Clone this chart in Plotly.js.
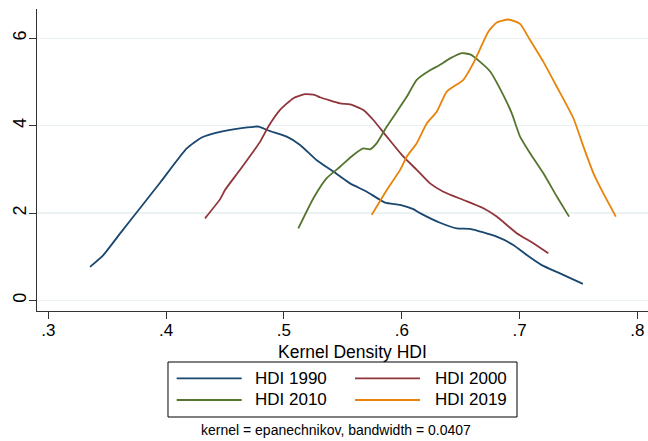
<!DOCTYPE html>
<html>
<head>
<meta charset="utf-8">
<script src="https://cdn.plot.ly/plotly-3.0.1.min.js"></script>
<style>html,body{margin:0;padding:0;background:#fff;}#chart{width:648px;height:441px;}</style>
</head>
<body>
<div id="chart"></div>
<script>
// Kernel density estimates of HDI
const hdi1990_x = [0.3354,0.3467,0.3620,0.3778,0.3950,0.4175,0.4302,0.4458,0.4655,0.4783,0.4868,0.5024,0.5137,0.5278,0.5419,0.5561,0.5703,0.5858,0.5986,0.6098,0.6155,0.6325,0.6467,0.6580,0.6806,0.6947,0.7061,0.7188,0.7343,0.7537];
const hdi1990_y = [0.77,1.04,1.57,2.11,2.70,3.48,3.73,3.86,3.95,3.98,3.89,3.75,3.56,3.21,2.95,2.68,2.49,2.24,2.19,2.09,2.00,1.78,1.65,1.64,1.46,1.27,1.04,0.81,0.62,0.38];

const hdi2000_x = [0.4330,0.4458,0.4500,0.4627,0.4797,0.4868,0.4967,0.5080,0.5179,0.5264,0.5306,0.5476,0.5561,0.5674,0.5759,0.5873,0.6014,0.6127,0.6240,0.6353,0.6523,0.6693,0.6806,0.6976,0.7117,0.7244];
const hdi2000_y = [1.88,2.32,2.53,2.99,3.63,3.98,4.36,4.63,4.72,4.70,4.65,4.51,4.49,4.36,4.13,3.75,3.29,2.99,2.68,2.49,2.30,2.11,1.92,1.54,1.31,1.08];

const hdi2010_x = [0.5122,0.5250,0.5363,0.5476,0.5589,0.5674,0.5731,0.5788,0.5873,0.5958,0.6042,0.6127,0.6240,0.6311,0.6410,0.6509,0.6580,0.6665,0.6750,0.6862,0.6934,0.7004,0.7089,0.7202,0.7316,0.7420];
const hdi2010_y = [1.65,2.34,2.80,3.06,3.33,3.48,3.46,3.60,3.98,4.32,4.66,5.05,5.27,5.37,5.54,5.66,5.63,5.46,5.24,4.70,4.28,3.75,3.37,2.91,2.38,1.92];

const hdi2019_x = [0.5745,0.5873,0.5986,0.6042,0.6127,0.6212,0.6297,0.6382,0.6523,0.6608,0.6735,0.6806,0.6905,0.7004,0.7089,0.7202,0.7316,0.7457,0.7542,0.7627,0.7711,0.7817];
const hdi2019_y = [1.96,2.53,2.99,3.29,3.60,4.05,4.32,4.78,5.05,5.43,6.15,6.36,6.43,6.33,5.96,5.46,4.89,4.17,3.52,2.91,2.45,1.92];

const seriesNames = ["HDI 1990","HDI 2000","HDI 2010","HDI 2019"];
const seriesColors = ["#1a476f","#90353b","#55752f","#e8830a"];
const xTickVals = [0.3,0.4,0.5,0.6,0.7,0.8];
const xTickText = [".3",".4",".5",".6",".7",".8"];
const yTickVals = [0,2,4,6];
const yTickText = ["0","2","4","6"];
const xTitle = "Kernel Density HDI";
const noteText = "kernel = epanechnikov, bandwidth = 0.0407";

const xs = [hdi1990_x,hdi2000_x,hdi2010_x,hdi2019_x];
const ys = [hdi1990_y,hdi2000_y,hdi2010_y,hdi2019_y];

const FONT = "'Liberation Sans', Arial, Helvetica, sans-serif";

const traces = xs.map((x,i)=>({
  type:'scatter', mode:'lines', x:x, y:ys[i], name:seriesNames[i],
  line:{color:seriesColors[i], width:1.8, shape:'spline', smoothing:0.5},
  showlegend:false, hoverinfo:'skip'
}));

// legend drawn in paper coordinates (two columns)
const shapes = [
  {type:'rect', xref:'paper', yref:'paper', x0:0.2144, x1:0.7856, y0:-0.351, y1:-0.1689,
   line:{color:'#000', width:1}, fillcolor:'rgba(0,0,0,0)'}
];
const annotations = [
  {xref:'paper', yref:'paper', x:0.5164, y:-0.137, text:xTitle, showarrow:false,
   xanchor:'center', yanchor:'middle', font:{family:FONT, size:17.5, color:'#000'}},
  {xref:'paper', yref:'paper', x:0.489, y:-0.394, text:noteText, showarrow:false,
   xanchor:'center', yanchor:'middle', font:{family:FONT, size:14, color:'#000'}}
];
const legCols = [[0.2286,0.335,0.354],[0.5205,0.6268,0.6476]];
const legRows = [-0.2228,-0.2947];
seriesNames.forEach((nm,i)=>{
  const c = legCols[i%2], r = legRows[Math.floor(i/2)];
  shapes.push({type:'line', xref:'paper', yref:'paper', x0:c[0], x1:c[1], y0:r, y1:r,
    line:{color:seriesColors[i], width:1.8}});
  annotations.push({xref:'paper', yref:'paper', x:c[2], y:r, text:nm, showarrow:false,
    xanchor:'left', yanchor:'middle', font:{family:FONT, size:17, color:'#000'}});
});

const layout = {
  width:648, height:441,
  margin:{l:37, r:0, t:9, b:130, pad:0},
  paper_bgcolor:'#fff', plot_bgcolor:'#fff',
  font:{family:FONT, color:'#000'},
  xaxis:{range:[0.2904,0.809], tickvals:xTickVals, ticktext:xTickText,
    showline:true, linecolor:'#333', linewidth:1, ticks:'outside', ticklen:7, tickcolor:'#333',
    ticklabelstandoff:-3,
    showgrid:false, zeroline:false, tickfont:{family:FONT, size:17, color:'#000'}},
  yaxis:{range:[-0.24,6.67], tickvals:yTickVals, ticktext:yTickText, tickangle:-90,
    showline:true, linecolor:'#333', linewidth:1, ticks:'outside', ticklen:7, tickcolor:'#333',
    ticklabelstandoff:-4,
    showgrid:true, gridcolor:'#eaf2f3', gridwidth:1.5, zeroline:false,
    tickfont:{family:FONT, size:18, color:'#000'}},
  shapes:shapes, annotations:annotations, showlegend:false
};

Plotly.newPlot('chart', traces, layout, {staticPlot:true, displayModeBar:false});
</script>
</body>
</html>
